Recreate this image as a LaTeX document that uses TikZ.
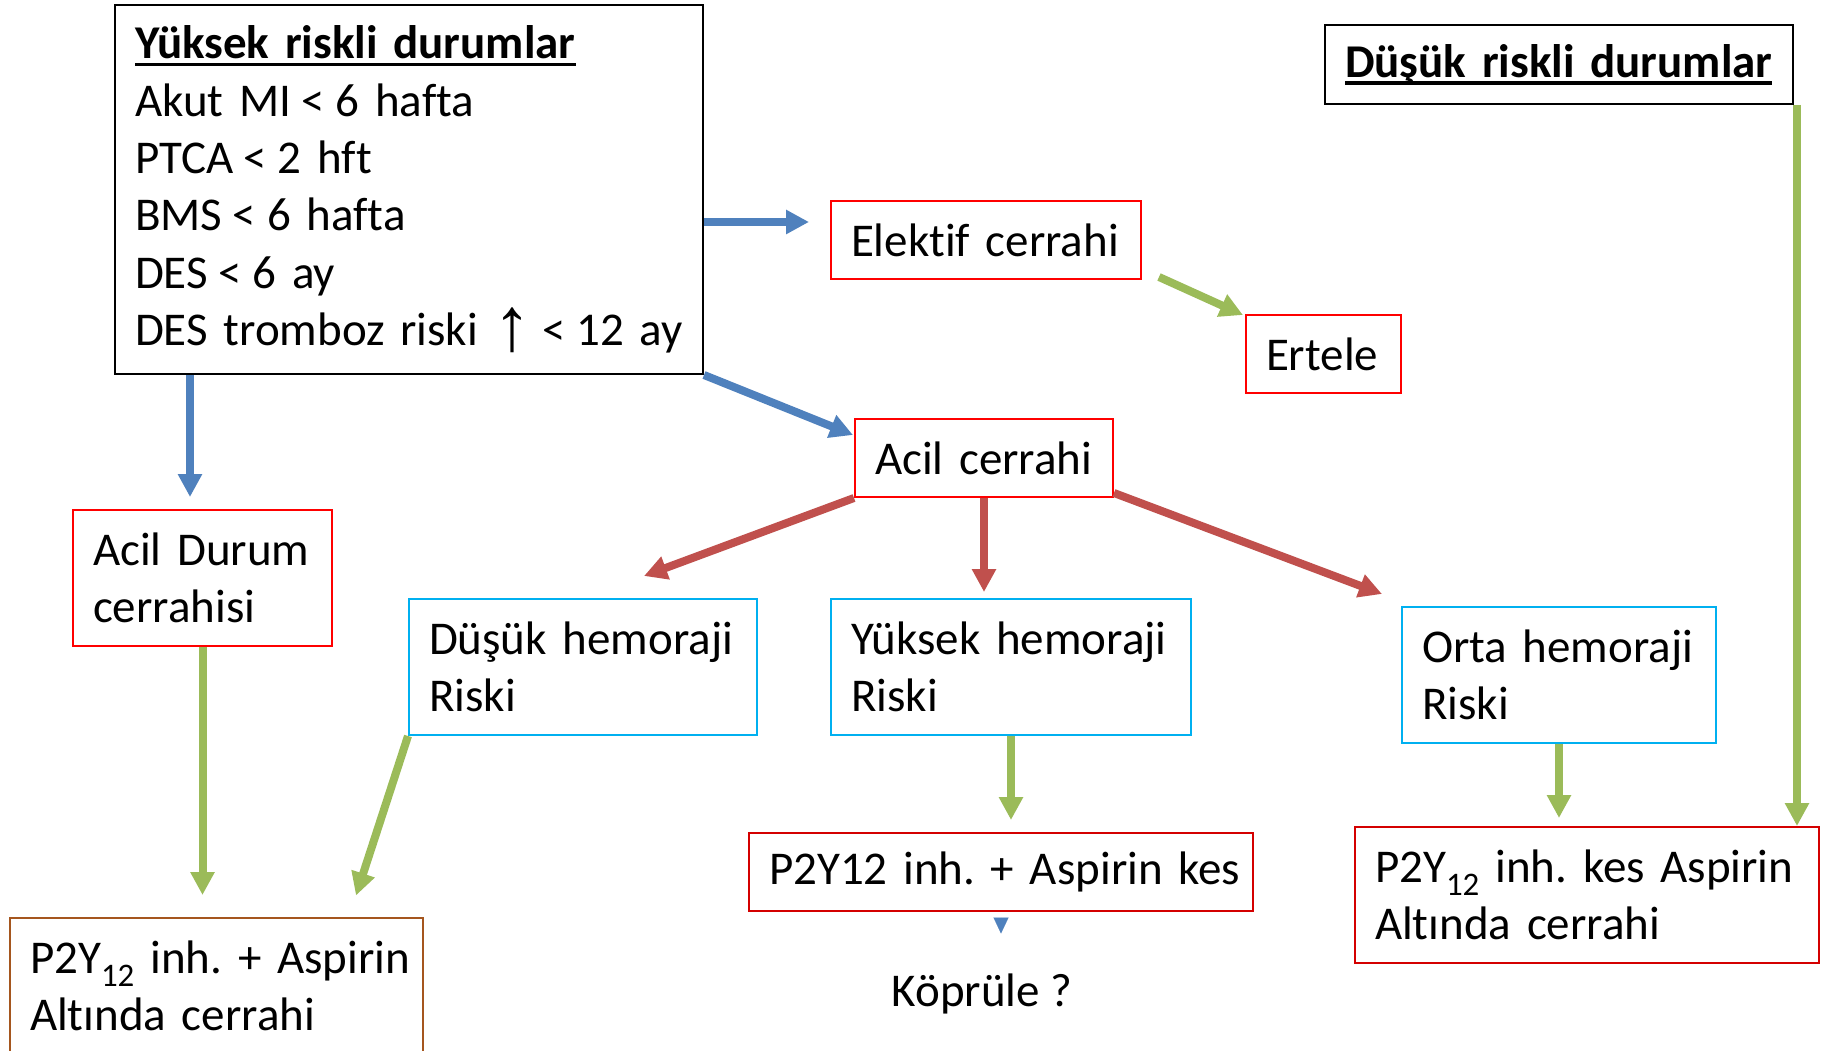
\documentclass[tikz,border=0pt]{standalone}
\usepackage{fontspec}
\setmainfont{Carlito}[RawFeature=-liga]
\newfontfamily\arrf{Liberation Sans}
\usetikzlibrary{arrows.meta,calc}
\definecolor{arrblue}{HTML}{4F81BD}
\definecolor{arrred}{HTML}{C0504D}
\definecolor{arrgreen}{HTML}{9BBB59}
\definecolor{boxred}{HTML}{FF0000}
\definecolor{boxdred}{HTML}{D40000}
\definecolor{boxcyan}{HTML}{00B0F0}
\definecolor{boxbrown}{HTML}{A5561E}
\newsavebox\ulbox
\newcommand\tul[1]{\sbox\ulbox{#1}\smash{\rlap{\rule[-7.5pt]{\wd\ulbox}{3.3pt}}}\usebox\ulbox}
\newcommand\lin[1]{\mbox{#1}}
\newcommand\lsym{\kern-5pt<\kern-5pt}
\newcommand\uparr{\raisebox{-5pt}{\arrf\fontsize{76}{76}\selectfont ↑}}
\frenchspacing
\tikzset{
  every node/.style={font=\fontsize{47}{57.4}\selectfont},
  box/.style={draw, line width=2pt, anchor=north west, inner xsep=20pt, inner ysep=0pt, align=left},
  arr/.style={line width=8pt, line cap=butt, -{Triangle[length=23pt,width=23pt]}},
  bluearr/.style={arr, draw=arrblue, fill=arrblue},
  redarr/.style={arr, draw=arrred, fill=arrred},
  greenarr/.style={arr, draw=arrgreen, fill=arrgreen},
}
\begin{document}
\begin{tikzpicture}[x=1pt,y=-1pt]
\fill[white] (0,0) rectangle (1832,1051);
\useasboundingbox (0,0) rectangle (1832,1051);
\clip (0,0) rectangle (1832,1051);

% boxes
\node[box, draw=black, text width=548pt, minimum height=369pt] (yuk) at (114,4)
  {\tul{\textbf{Yüksek riskli durumlar}}\\ \lin{Akut MI \lsym{} 6 hafta}\\ \lin{PTCA \lsym{} 2 hft}\\ \lin{BMS \lsym{} 6 hafta}\\ \lin{DES \lsym{} 6 ay}\\ \lin{DES tromboz riski \uparr{} \lsym{} 12 ay}};
\node[box, draw=black, text width=428pt, minimum height=79pt] (duk) at (1324,24)
  {\lin{\tul{\textbf{Düşük riskli durumlar}}}};
\node[box, draw=boxred, text width=270pt, minimum height=78pt] (elek) at (830,200) {\lin{Elektif cerrahi}};
\node[box, draw=boxred, text width=115pt, minimum height=78pt] (ert) at (1245,314) {\lin{Ertele}};
\node[box, draw=boxred, text width=218pt, minimum height=78pt] (acil) at (854,418) {\lin{Acil cerrahi}};
\node[box, draw=boxred, text width=219pt, minimum height=136pt] (acildurum) at (72,509) {\lin{Acil Durum}\\ \lin{cerrahisi}};
\node[box, draw=boxcyan, text width=308pt, minimum height=136pt] (dushem) at (408,598) {\lin{Düşük hemoraji}\\ \lin{Riski}};
\node[box, draw=boxcyan, text width=320pt, minimum height=136pt] (yukhem) at (830,598) {\lin{Yüksek hemoraji}\\ \lin{Riski}};
\node[box, draw=boxcyan, text width=274pt, minimum height=136pt] (ortahem) at (1401,606) {\lin{Orta hemoraji}\\ \lin{Riski}};
\node[box, draw=boxdred, text width=464pt, minimum height=78pt] (p2kes) at (748,832) {\lin{P2Y12 inh. + Aspirin kes}};
\node[box, draw=boxdred, text width=424pt, minimum height=136pt] (p2right) at (1354,826) {\lin{P2Y\textsubscript{12} inh. kes Aspirin}\\ \lin{Altında cerrahi}};
\node[box, draw=boxbrown, text width=373pt, minimum height=136pt] (p2left) at (9,917) {\lin{P2Y\textsubscript{12} inh. + Aspirin}\\ \lin{Altında cerrahi}};
\node[anchor=base, inner sep=0pt] (kopru) at (982,1006) {Köprüle ?};

% blue arrows
\draw[bluearr] ($(yuk.north east)+(0,218)$) -- ($(elek.north west)+(-21,22)$);
\draw[bluearr] (yuk.south east) -- ($(acil.north west)+(-1,17)$);
\draw[bluearr] ($(yuk.south west)+(76,0)$) -- ($(yuk.south west)+(76,122)$);
\draw[arrblue, line width=0.1pt, -{Triangle[length=16pt,width=15pt]}] ($(p2kes.south)+(0,5.5)$) -- ($(p2kes.south)+(0,21.5)$);

% red arrows
\draw[redarr] (acil.south west) -- ($(dushem.north west)+(236,-22)$);
\draw[redarr] (acil.south) -- ($(acil.south)+(0,94)$);
\draw[redarr] ($(acil.south east)+(0,-5)$) -- ($(ortahem.north west)+(-19,-12)$);

% green arrows
\draw[greenarr] ($(elek.south east)+(17,-3)$) -- ($(ert.north west)+(-2,1)$);
\draw[greenarr] ($(duk.south east)+(3,0)$) -- ($(p2right.north east)+(-23,0)$);
\draw[greenarr] (acildurum.south) -- ($(acildurum.south)+(0,248)$);
\draw[greenarr] (dushem.south west) -- ($(dushem.south west)+(-52,159.5)$);
\draw[greenarr] (yukhem.south) -- ($(yukhem.south)+(0,84)$);
\draw[greenarr] (ortahem.south) -- ($(ortahem.south)+(0,74)$);
\end{tikzpicture}
\end{document}
